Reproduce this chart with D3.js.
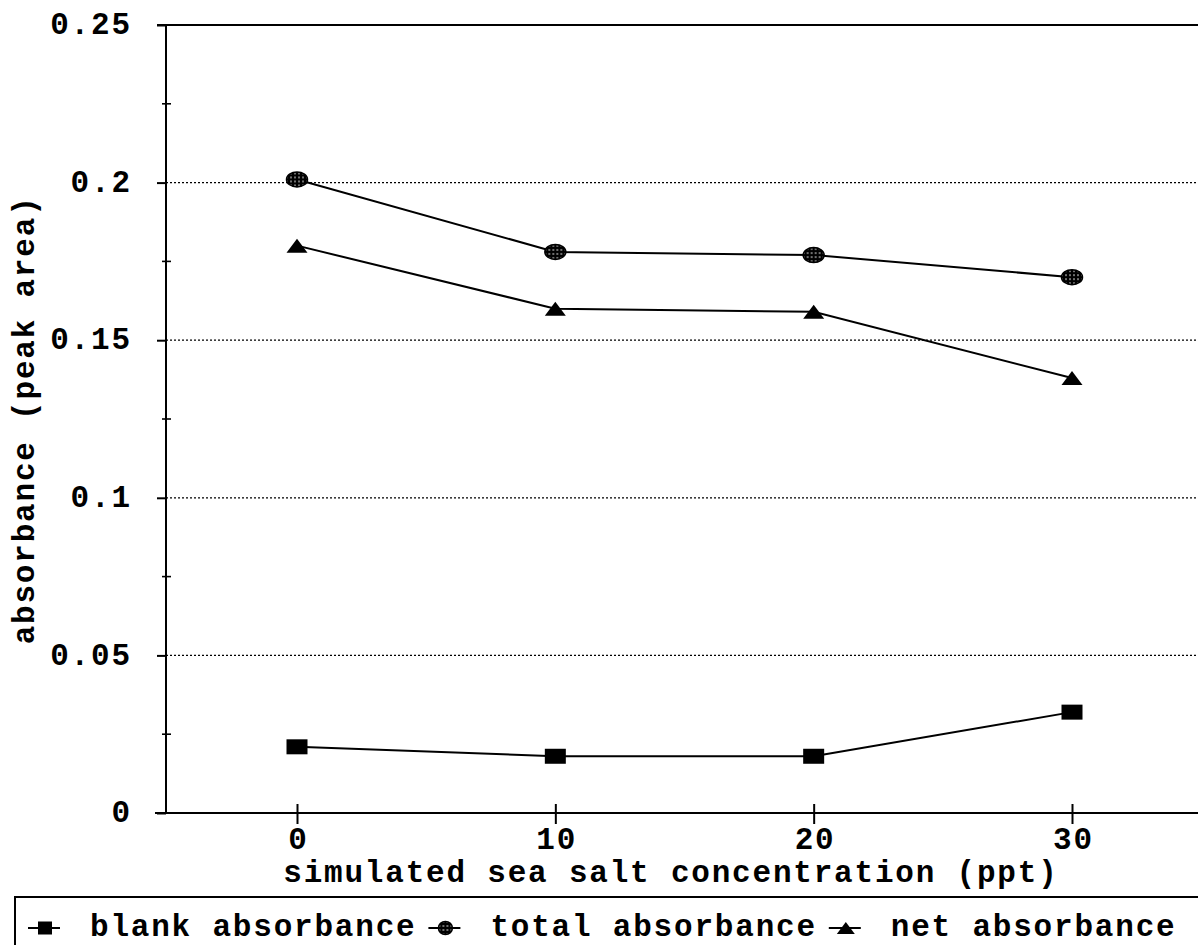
<!DOCTYPE html>
<html>
<head>
<meta charset="utf-8">
<script src="https://cdn.jsdelivr.net/npm/d3@7"></script>
<style>
  html, body { margin: 0; padding: 0; background: #fff; }
  svg { display: block; }
  text { font-family: "Liberation Mono", "Courier New", monospace; font-weight: bold; fill: #000; }
</style>
</head>
<body>
<svg id="chart" width="1198" height="945"></svg>
<script>
// Salt concentrations (ppt) and measured absorbances (peak area)
const salt = [0, 10, 20, 30];
const blankAbs = [0.021, 0.018, 0.018, 0.032];
const totalAbs = [0.201, 0.178, 0.177, 0.170];
const netAbs = [0.180, 0.160, 0.159, 0.138];

const yTicks = [0, 0.05, 0.1, 0.15, 0.2, 0.25];
const yTickLabels = ["0", "0.05", "0.1", "0.15", "0.2", "0.25"];
const yMinorTicks = [0.025, 0.075, 0.125, 0.175, 0.225];
const xTicks = [0, 10, 20, 30];
const xTickLabels = ["0", "10", "20", "30"];

const seriesNames = ["blank absorbance", "total absorbance", "net absorbance"];

const svg = d3.select("#chart");
const W = 1198;

const plot = { left: 166, right: 1198, top: 25, bottom: 813 };

// typewriter-style text on a wide fixed pitch
const FS = 31;
const LS = 1.8;
const PITCH = FS * 0.6 + LS;

const x = d3.scaleLinear().domain([0, 30]).range([297, 1072]);
const y = d3.scaleLinear().domain([0, 0.25]).range([plot.bottom, plot.top]);

// stippled fill for the round markers
const defs = svg.append("defs");
const pat = defs.append("pattern")
  .attr("id", "stipple").attr("patternUnits", "userSpaceOnUse")
  .attr("width", 4).attr("height", 4);
pat.append("rect").attr("width", 4).attr("height", 4).attr("fill", "#000");
pat.append("circle").attr("cx", 2).attr("cy", 2).attr("r", 0.8).attr("fill", "#fff");

// dotted horizontal gridlines
svg.append("g").selectAll("line")
  .data(yTicks.filter(v => v > 0 && v < 0.25))
  .join("line")
  .attr("x1", plot.left).attr("x2", W)
  .attr("y1", d => y(d)).attr("y2", d => y(d))
  .attr("stroke", "#000").attr("stroke-width", 1.3)
  .attr("stroke-dasharray", "2,2");

// frame: top line, left axis, bottom axis
svg.append("line").attr("x1", 157).attr("x2", W).attr("y1", y(0.25)).attr("y2", y(0.25))
  .attr("stroke", "#000").attr("stroke-width", 2.2);
svg.append("line").attr("x1", plot.left).attr("x2", plot.left).attr("y1", y(0.25)).attr("y2", y(0))
  .attr("stroke", "#000").attr("stroke-width", 2);
svg.append("line").attr("x1", 155).attr("x2", W).attr("y1", y(0)).attr("y2", y(0))
  .attr("stroke", "#000").attr("stroke-width", 2);

// y axis: major ticks with labels
const yAxis = d3.axisLeft(y).tickValues(yTicks)
  .tickFormat((d, i) => yTickLabels[i]).tickSize(9).tickPadding(27 - LS);
const gy = svg.append("g").attr("transform", `translate(${plot.left},0)`).call(yAxis);
gy.select(".domain").remove();
gy.selectAll(".tick line").attr("stroke", "#000").attr("stroke-width", 2);
gy.selectAll(".tick text")
  .attr("font-size", FS).attr("font-family", null)
  .attr("letter-spacing", LS)
  .attr("dy", "0.28em");

// y axis: minor ticks crossing the axis
svg.append("g").selectAll("line").data(yMinorTicks).join("line")
  .attr("x1", plot.left - 4).attr("x2", plot.left + 5)
  .attr("y1", d => y(d)).attr("y2", d => y(d))
  .attr("stroke", "#000").attr("stroke-width", 1.6);

// x axis: crossing ticks with labels
const xAxis = d3.axisBottom(x).tickValues(xTicks)
  .tickFormat((d, i) => xTickLabels[i]).tickSize(11).tickPadding(25);
const gx = svg.append("g").attr("transform", `translate(0,${plot.bottom})`).call(xAxis);
gx.select(".domain").remove();
gx.selectAll(".tick line").attr("y1", -9).attr("y2", 11)
  .attr("stroke", "#000").attr("stroke-width", 2);
gx.selectAll(".tick text")
  .attr("font-size", FS).attr("font-family", null)
  .attr("letter-spacing", LS)
  .attr("dx", LS / 2)
  .attr("dy", 0).attr("y", 36);

// axis titles
svg.append("text")
  .attr("x", 670 + LS / 2).attr("y", 882)
  .attr("text-anchor", "middle").attr("font-size", FS).attr("letter-spacing", LS)
  .text("simulated sea salt concentration (ppt)");
svg.append("text")
  .attr("transform", `translate(34,${(plot.top + plot.bottom) / 2 + LS / 2}) rotate(-90)`)
  .attr("text-anchor", "middle").attr("font-size", FS).attr("letter-spacing", LS)
  .text("absorbance (peak area)");

// marker shapes
function drawMarker(sel, kind, w, h) {
  if (kind === "square") {
    sel.append("rect").attr("x", -w / 2).attr("y", -h / 2).attr("width", w).attr("height", h)
      .attr("fill", "#000");
  } else if (kind === "circle") {
    sel.append("ellipse").attr("rx", w / 2).attr("ry", h / 2)
      .attr("fill", "url(#stipple)").attr("stroke", "#000").attr("stroke-width", 1.5);
  } else {
    sel.append("path")
      .attr("d", `M0,${-h / 2}L${w / 2},${h / 2}L${-w / 2},${h / 2}Z`)
      .attr("fill", "#000");
  }
}

const series = [
  { name: seriesNames[0], values: blankAbs, kind: "square" },
  { name: seriesNames[1], values: totalAbs, kind: "circle" },
  { name: seriesNames[2], values: netAbs, kind: "triangle" }
];

const line = d3.line().x((d, i) => x(salt[i])).y(d => y(d));

series.forEach(s => {
  svg.append("path").datum(s.values)
    .attr("d", line).attr("fill", "none")
    .attr("stroke", "#000").attr("stroke-width", 2);
  svg.append("g").selectAll("g").data(s.values).join("g")
    .attr("transform", (d, i) => `translate(${x(salt[i])},${y(d)})`)
    .each(function () { drawMarker(d3.select(this), s.kind, 21, s.kind === "triangle" ? 14 : 15); });
});

// legend box along the bottom
svg.append("rect")
  .attr("x", 15).attr("y", 897).attr("width", 1200).attr("height", 100)
  .attr("fill", "none").attr("stroke", "#000").attr("stroke-width", 2);

let lx = 28;
const ly = 928;
series.forEach(s => {
  const g = svg.append("g");
  g.append("line").attr("x1", lx).attr("x2", lx + 32).attr("y1", ly).attr("y2", ly)
    .attr("stroke", "#000").attr("stroke-width", 2);
  const m = g.append("g").attr("transform", `translate(${lx + 17},${ly})`);
  drawMarker(m, s.kind, s.kind === "triangle" ? 18 : 14, s.kind === "triangle" ? 12 : 13);
  g.append("text").attr("x", lx + 62).attr("y", 936)
    .attr("font-size", FS).attr("letter-spacing", LS).text(s.name);
  lx += 62 + s.name.length * PITCH + 12;
});
</script>
</body>
</html>
